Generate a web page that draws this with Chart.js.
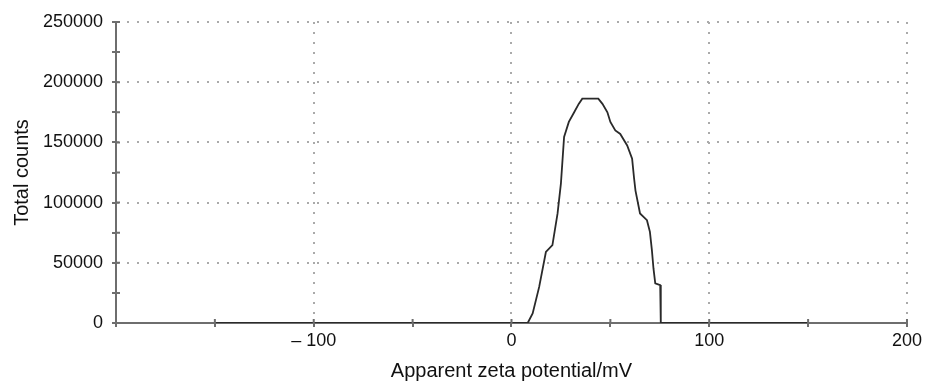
<!DOCTYPE html>
<html>
<head>
<meta charset="utf-8">
<script src="https://cdn.jsdelivr.net/npm/chart.js@4/dist/chart.umd.min.js"></script>
<style>
  body { margin: 0; background: #fff; }
  #wrap { width: 925px; height: 383px; }
</style>
</head>
<body>
<div id="wrap"><canvas id="zetaChart"></canvas></div>
<script>
//zeta potential distribution
//x in mV, y in total counts
var zeta = [-150, 8.2, 10.7, 14, 17.4, 20.7, 23.3, 25, 26.6, 29, 31.7, 34, 35.8, 43.9, 46, 48.5, 50, 52.5, 55, 58.5, 61, 62, 62.7, 65, 68.5, 70, 71, 71.8, 72.7, 75.2, 75.5, 150];
var counts = [0, 0, 8000, 30000, 59000, 64700, 91000, 116000, 154500, 167000, 175000, 182000, 186300, 186300, 182000, 175000, 167000, 160000, 157000, 147500, 136500, 120000, 110000, 91000, 85400, 75700, 60500, 45300, 33000, 31500, 0, 0];

// axis ranges and labelled ticks
var xMin = -200, xMax = 200, xStep = 50;
var yMin = 0, yMax = 250000, yStep = 25000;
var xLabels = [-100, 0, 100, 200];
var yLabels = [50000, 100000, 150000, 200000, 250000, 0];

var points = zeta.map(function (v, i) { return {x: v, y: counts[i]}; });

var axisColor = "#6e6e6e";
var dotColor = "#aaa";
var font = "'Liberation Sans', Arial, Helvetica, sans-serif";

//ticks in the original cross the axis line, chart.js only draws them outward
var crossTicks = {
  id: "crossTicks",
  afterDraw: function (chart) {
    var ctx = chart.ctx;
    var xs = chart.scales.x, ys = chart.scales.y;
    ctx.save();
    ctx.strokeStyle = axisColor;
    ctx.lineWidth = 2;
    ctx.beginPath();
    xs.ticks.forEach(function (t) {
      var px = xs.getPixelForValue(t.value);
      ctx.moveTo(px, ys.bottom);
      ctx.lineTo(px, ys.bottom - 4);
    });
    ys.ticks.forEach(function (t) {
      var py = ys.getPixelForValue(t.value);
      ctx.moveTo(xs.left, py);
      ctx.lineTo(xs.left + 4, py);
    });
    ctx.stroke();
    ctx.restore();
  }
};

var zetaChart = new Chart(document.getElementById("zetaChart"), {
  type: "scatter",
  data: {
    datasets: [
      {
        data: points,
        showLine: true,
        borderColor: "#2a2a2a",
        borderWidth: 1.8,
        pointRadius: 0,
        fill: false
      }
    ]
  },
  options: {
    responsive: true,
    maintainAspectRatio: false,
    animation: false,
    layout: { padding: { left: 0, right: 15, top: 22, bottom: 0 } },
    plugins: {
      legend: { display: false },
      tooltip: { enabled: false }
    },
    scales: {
      x: {
        type: "linear",
        min: xMin,
        max: xMax,
        afterFit: function (s) { s.height = 60; },
        ticks: {
          stepSize: xStep,
          padding: 3,
          color: "#111",
          font: { family: font, size: 18 },
          maxRotation: 0,
          autoSkip: false,
          callback: function (v) {
            if (xLabels.indexOf(v) < 0) return "";
            return v < 0 ? "\u2013 " + Math.abs(v) : String(v);
          }
        },
        grid: {
          color: function (c) {
            return xLabels.indexOf(c.tick && c.tick.value) >= 0 ? dotColor : "rgba(0,0,0,0)";
          },
          lineWidth: 2,
          tickColor: axisColor,
          tickLength: 4,
          tickWidth: 2
        },
        border: { color: axisColor, width: 2, dash: [2, 8] },
        title: {
          display: true,
          text: "Apparent zeta potential/mV",
          color: "#111",
          font: { family: font, size: 20 },
          padding: { top: 0, bottom: 0 }
        }
      },
      y: {
        type: "linear",
        min: yMin,
        max: yMax,
        afterFit: function (s) { s.width = 116; },
        ticks: {
          stepSize: yStep,
          padding: 9,
          color: "#111",
          font: { family: font, size: 18 },
          autoSkip: false,
          callback: function (v) {
            return yLabels.indexOf(v) >= 0 ? String(v) : "";
          }
        },
        grid: {
          color: function (c) {
            var v = c.tick && c.tick.value;
            return (v > 0 && yLabels.indexOf(v) >= 0) ? dotColor : "rgba(0,0,0,0)";
          },
          lineWidth: 2,
          tickColor: axisColor,
          tickLength: 4,
          tickWidth: 2
        },
        border: { color: axisColor, width: 2, dash: [2, 8] },
        title: {
          display: true,
          text: "Total counts",
          color: "#111",
          font: { family: font, size: 20 },
          padding: { top: 10, bottom: 0 }
        }
      }
    }
  },
  plugins: [crossTicks]
});
</script>
</body>
</html>
